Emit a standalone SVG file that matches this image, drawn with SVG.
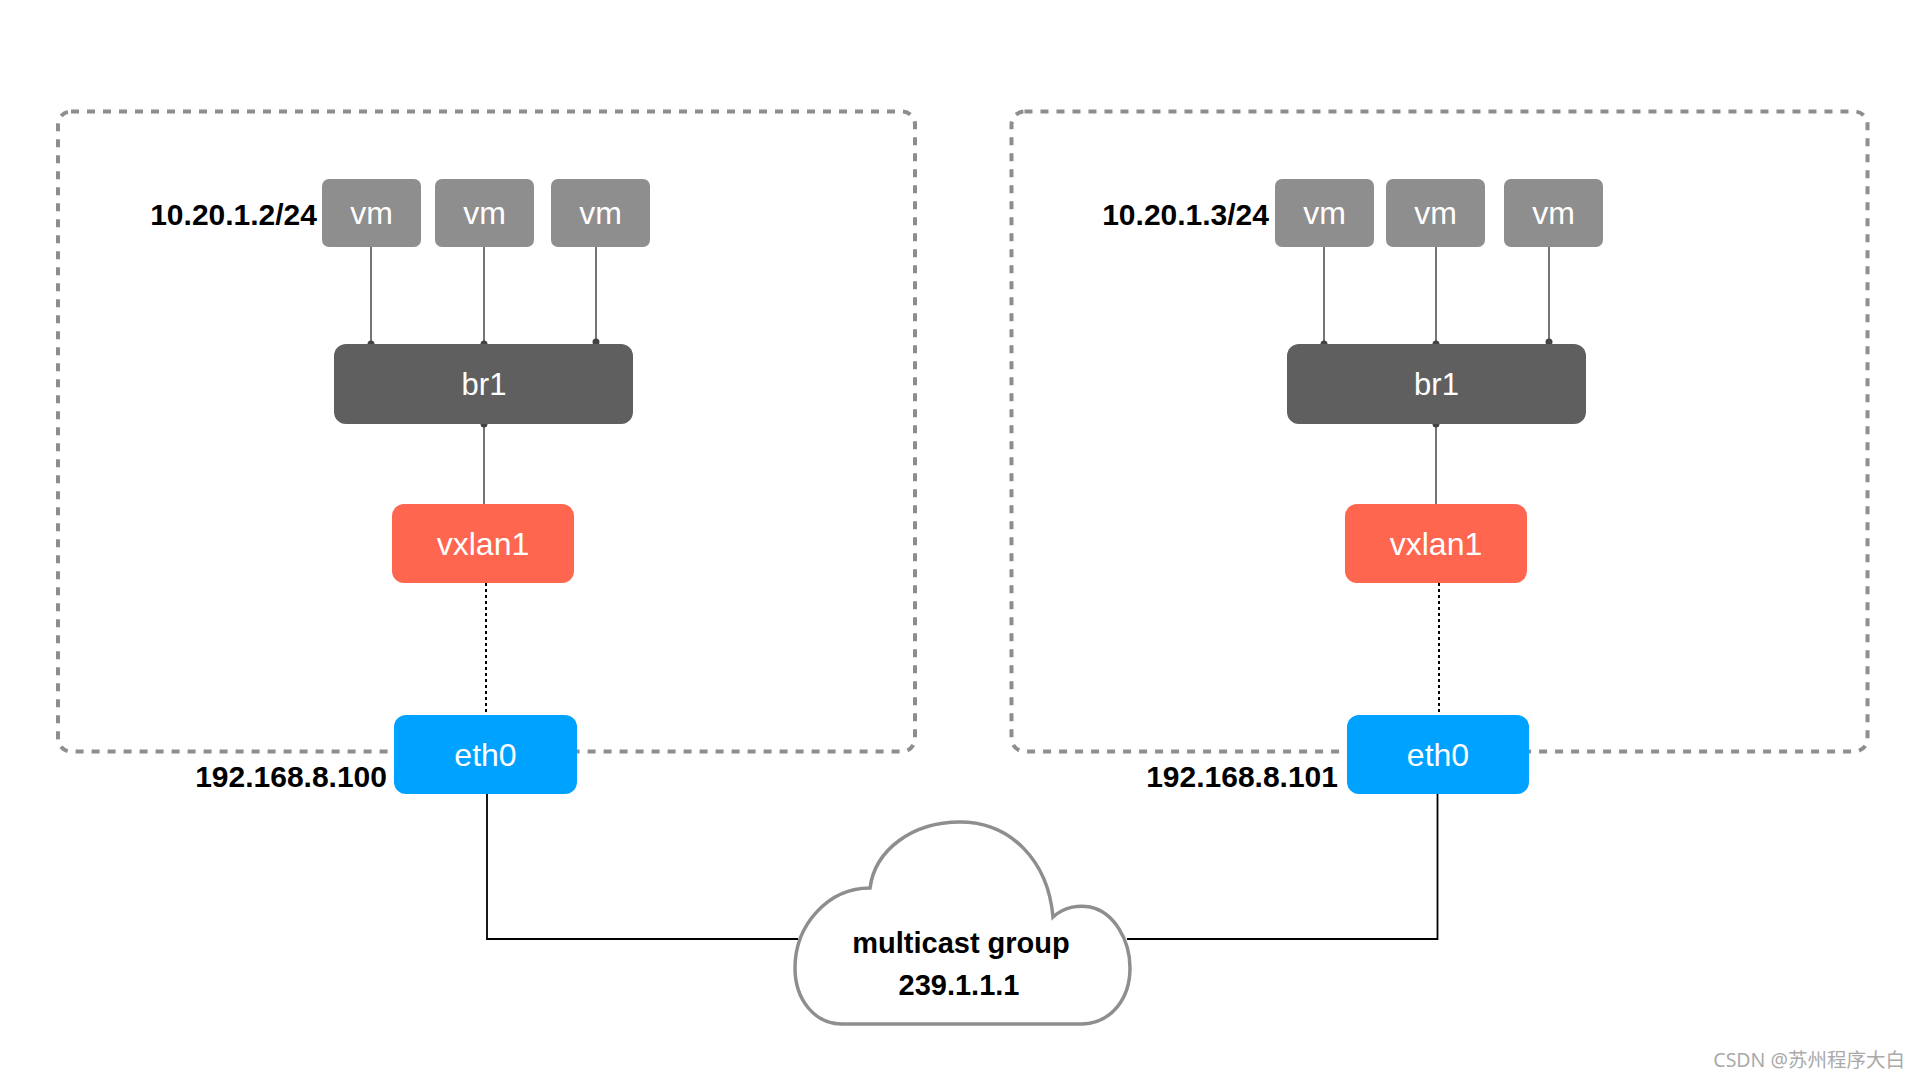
<svg xmlns="http://www.w3.org/2000/svg" width="1920" height="1080" viewBox="0 0 1920 1080">
<style>
.box{fill:none;stroke:#8e8e8e;stroke-width:4;stroke-dasharray:8 8}
.vm{fill:#8e8e8e}
.br{fill:#5f5f5f}
.vx{fill:#ff6650}
.eth{fill:#00a2ff}
.nt{font-family:"Liberation Sans",Arial,sans-serif;fill:#fff;text-anchor:middle}
.lbl{font-family:"Liberation Sans",Arial,sans-serif;font-weight:bold;fill:#000}
.gl{stroke:#666;stroke-width:1.8;fill:none}
.dot{stroke:#000;stroke-width:2;stroke-dasharray:3 3;fill:none}
.bl{stroke:#000;stroke-width:1.8;fill:none}
.pt{fill:#444}
</style>
<rect width="1920" height="1080" fill="#fff"/>
<rect class="box" x="58" y="111.5" width="857" height="640" rx="13"/>
<rect class="box" x="1011.5" y="111.5" width="856" height="640" rx="13"/>
<g id="connectors">
<line class="gl" x1="371" y1="247" x2="371" y2="344"/>
<line class="gl" x1="484" y1="247" x2="484" y2="344"/>
<line class="gl" x1="596" y1="247" x2="596" y2="342"/>
<line class="gl" x1="484" y1="424" x2="484" y2="504"/>
<line class="dot" x1="486" y1="583" x2="486" y2="715"/>
<polyline class="bl" points="487,794 487,939 798,939"/>
<line class="gl" x1="1324" y1="247" x2="1324" y2="344"/>
<line class="gl" x1="1436" y1="247" x2="1436" y2="344"/>
<line class="gl" x1="1549" y1="247" x2="1549" y2="342"/>
<line class="gl" x1="1436" y1="424" x2="1436" y2="504"/>
<line class="dot" x1="1439" y1="583" x2="1439" y2="715"/>
<polyline class="bl" points="1437.5,794 1437.5,939 1127,939"/>
<circle class="pt" cx="371" cy="344" r="3.5"/>
<circle class="pt" cx="484" cy="344" r="3.5"/>
<circle class="pt" cx="596" cy="342" r="3.5"/>
<circle class="pt" cx="484" cy="424" r="3.5"/>
<circle class="pt" cx="1324" cy="344" r="3.5"/>
<circle class="pt" cx="1436" cy="344" r="3.5"/>
<circle class="pt" cx="1549" cy="342" r="3.5"/>
<circle class="pt" cx="1436" cy="424" r="3.5"/>
</g>
<g id="label-left-ip"><text class="lbl" x="317" y="225" font-size="30" text-anchor="end">10.20.1.2/24</text></g>
<g id="vm-l1"><rect class="vm" x="322" y="179" width="99" height="68" rx="7"/><text class="nt" x="371.5" y="224" font-size="32">vm</text></g>
<g id="vm-l2"><rect class="vm" x="435" y="179" width="99" height="68" rx="7"/><text class="nt" x="484.5" y="224" font-size="32">vm</text></g>
<g id="vm-l3"><rect class="vm" x="551" y="179" width="99" height="68" rx="7"/><text class="nt" x="600.5" y="224" font-size="32">vm</text></g>
<g id="br1-l"><rect class="br" x="334" y="344" width="299" height="80" rx="12"/><text class="nt" x="484" y="395" font-size="31">br1</text></g>
<g id="vxlan1-l"><rect class="vx" x="392" y="504" width="182" height="79" rx="12"/><text class="nt" x="483" y="555" font-size="32">vxlan1</text></g>
<g id="eth0-l"><rect class="eth" x="394" y="715" width="183" height="79" rx="12"/><text class="nt" x="485.5" y="766" font-size="32">eth0</text></g>
<g id="label-left-eth"><text class="lbl" x="387" y="787" font-size="30" text-anchor="end">192.168.8.100</text></g>

<g id="label-right-ip"><text class="lbl" x="1269" y="225" font-size="30" text-anchor="end">10.20.1.3/24</text></g>
<g id="vm-r1"><rect class="vm" x="1275" y="179" width="99" height="68" rx="7"/><text class="nt" x="1324.5" y="224" font-size="32">vm</text></g>
<g id="vm-r2"><rect class="vm" x="1386" y="179" width="99" height="68" rx="7"/><text class="nt" x="1435.5" y="224" font-size="32">vm</text></g>
<g id="vm-r3"><rect class="vm" x="1504" y="179" width="99" height="68" rx="7"/><text class="nt" x="1553.5" y="224" font-size="32">vm</text></g>
<g id="br1-r"><rect class="br" x="1287" y="344" width="299" height="80" rx="12"/><text class="nt" x="1436.5" y="395" font-size="31">br1</text></g>
<g id="vxlan1-r"><rect class="vx" x="1345" y="504" width="182" height="79" rx="12"/><text class="nt" x="1436" y="555" font-size="32">vxlan1</text></g>
<g id="eth0-r"><rect class="eth" x="1347" y="715" width="182" height="79" rx="12"/><text class="nt" x="1438" y="766" font-size="32">eth0</text></g>
<g id="label-right-eth"><text class="lbl" x="1338" y="787" font-size="30" text-anchor="end">192.168.8.101</text></g>

<g id="cloud">
<path d="M870 888 C875 850 912 822 960 822 C1010 822 1048 860 1053 917 C1065 906 1080 905 1090 907 C1114 912 1130 940 1130 968 C1130 998 1112 1023 1082 1024 L842 1024 C815 1024 795 1000 795 968 C795 925 828 888 870 888 Z" fill="#fff" stroke="#8e8e8e" stroke-width="3.5"/>
<text class="lbl" x="961" y="953" font-size="29" text-anchor="middle">multicast group</text>
<text class="lbl" x="959" y="995" font-size="29" text-anchor="middle">239.1.1.1</text>
</g>
<text x="1905" y="1067" font-size="19.5" text-anchor="end" fill="#aaa" font-family="'Noto Sans','Noto Sans CJK SC',sans-serif">CSDN @苏州程序大白</text>
</svg>
